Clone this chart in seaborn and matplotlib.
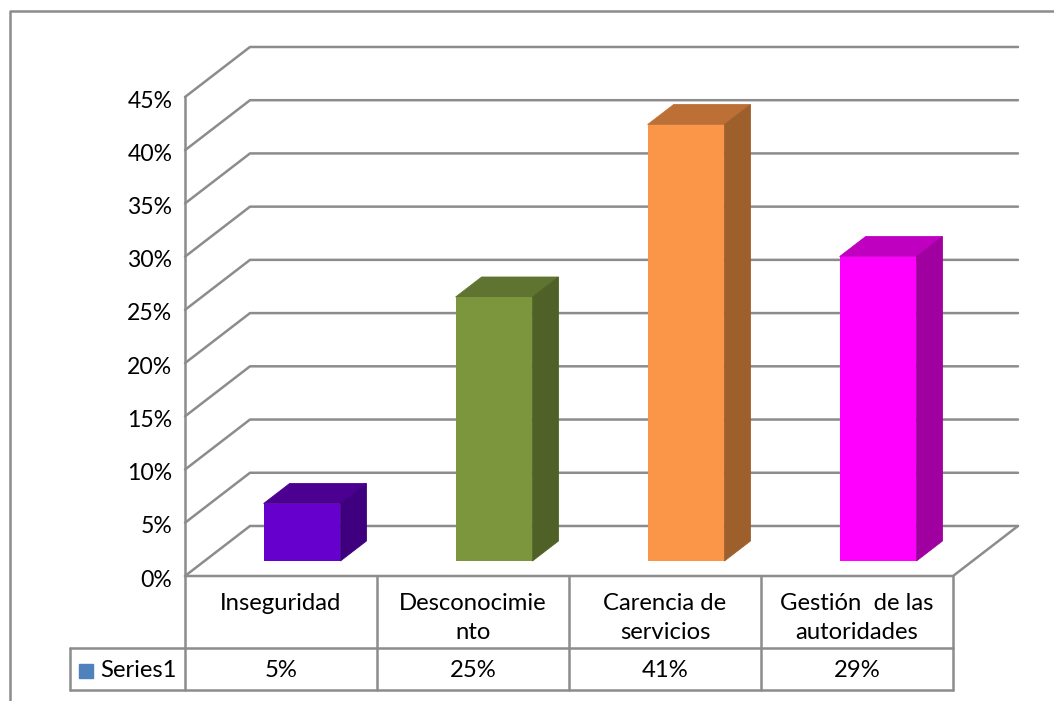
import matplotlib
matplotlib.use("Agg")
import matplotlib.pyplot as plt
from matplotlib.lines import Line2D
from matplotlib.patches import Polygon
from matplotlib.transforms import ScaledTranslation
import seaborn as sns

categories = ["Inseguridad", "Desconocimie\nnto", "Carencia de\nservicios", "Gestión  de las\nautoridades"]
values = [5.4, 24.8, 41.0, 28.6]
table_labels = ["5%", "25%", "41%", "29%"]
series_name = "Series1"
y_ticks = [0, 5, 10, 15, 20, 25, 30, 35, 40, 45]

front_colors = ["#6600CC", "#7B963C", "#FB9649", "#FF00FF"]
top_colors = ["#4B0092", "#5E7430", "#BD7036", "#C000C0"]
side_colors = ["#3F0080", "#4F6126", "#9D5F2C", "#A000A0"]

GREY = "#8C8C8C"
LW = 1.8
FS = 17.2
# depth of the fake 3d box, in data units
DX = 65 / 192.0
DY = 50 / 10.64
ROW1 = -6.77
ROW2 = -10.72
LEFT = -0.5 - 115 / 192.0

sns.set_theme(style="white")
plt.rcParams["font.family"] = ["Lato", "DejaVu Sans"]

fig = plt.figure(figsize=(10.54, 7.01), dpi=100)
ax = fig.add_axes([185 / 1054, 1 - 576 / 701, 768 / 1054, 479 / 701])

sns.barplot(x=list(range(4)), y=values, hue=list(range(4)), palette=front_colors,
            width=0.4, saturation=1, legend=False, ax=ax, zorder=4, linewidth=0)
ax.set_xlim(-0.5, 3.5)
ax.set_ylim(0, 45)

# walls
for v in y_ticks:
    ax.plot([-0.5, -0.5 + DX, 3.5 + DX], [v, v + DY, v + DY], color=GREY, lw=LW, clip_on=False, zorder=1)
ax.plot([-0.5, 3.5, 3.5 + DX], [0, 0, DY], color=GREY, lw=LW, clip_on=False, zorder=1)

# shift the bars into the box, add top and side (drawn under the front, small edge hides the seam)
for i, bar in enumerate(ax.patches):
    x0 = bar.get_x() + 0.3 * DX + 0.008
    w = bar.get_width()
    y0 = 0.3 * DY
    h = bar.get_height()
    bar.set_x(x0)
    bar.set_y(y0)
    bar.set_clip_on(False)
    dx = 0.4 * DX
    dy = 0.4 * DY
    ax.add_patch(Polygon([(x0, y0 + h), (x0 + w, y0 + h), (x0 + w + dx, y0 + h + dy), (x0 + dx, y0 + h + dy)],
                         facecolor=top_colors[i], edgecolor=top_colors[i], lw=0.6, clip_on=False, zorder=3))
    ax.add_patch(Polygon([(x0 + w, y0), (x0 + w + dx, y0 + dy), (x0 + w + dx, y0 + h + dy), (x0 + w, y0 + h)],
                         facecolor=side_colors[i], edgecolor=side_colors[i], lw=0.6, clip_on=False, zorder=3))

# table under the axis
for x in [-0.5, 0.5, 1.5, 2.5, 3.5]:
    ax.plot([x, x], [0, ROW2], color=GREY, lw=LW, clip_on=False)
ax.plot([-0.5, -0.5], [0, 45], color=GREY, lw=LW, clip_on=False)
ax.plot([LEFT, 3.5], [ROW1, ROW1], color=GREY, lw=LW, clip_on=False)
ax.plot([LEFT, 3.5], [ROW2, ROW2], color=GREY, lw=LW, clip_on=False)
ax.plot([LEFT, LEFT], [ROW1, ROW2], color=GREY, lw=LW, clip_on=False)
row_mid = (ROW1 + ROW2) / 2 - 0.15
for i, lab in enumerate(table_labels):
    ax.text(i, row_mid, lab, ha="center", va="center", fontsize=FS, color="black")
ax.plot([LEFT + 16 / 192.0], [row_mid], marker="s", ms=10.5, color="#4F81BD", lw=0, clip_on=False)
ax.text(LEFT + 30 / 192.0, row_mid, series_name, ha="left", va="center", fontsize=FS, color="black")

ax.set_xticks(range(4))
ax.set_xticklabels(categories, fontsize=FS, color="black", linespacing=1.5)
ax.set_yticks(y_ticks)
ax.set_yticklabels([f"{v}%" for v in y_ticks], fontsize=16.6, color="black")
ax.tick_params(axis="x", length=0, pad=12)
ax.tick_params(axis="y", length=0, pad=9)
nudge = ScaledTranslation(0, -1.5 / 72, fig.dpi_scale_trans)
for lab in ax.get_yticklabels():
    lab.set_transform(lab.get_transform() + nudge)
ax.set_xlabel("")
ax.set_ylabel("")
ax.patch.set_alpha(0)
sns.despine(ax=ax, left=True, bottom=True)

# chart area border: only left and top are inside the crop
fig.add_artist(Line2D([10 / 1054, 10 / 1054, 1], [0, 1 - 11 / 701, 1 - 11 / 701], color=GREY, lw=LW,
                      transform=fig.transFigure))

fig.savefig("out.png", dpi=100)
